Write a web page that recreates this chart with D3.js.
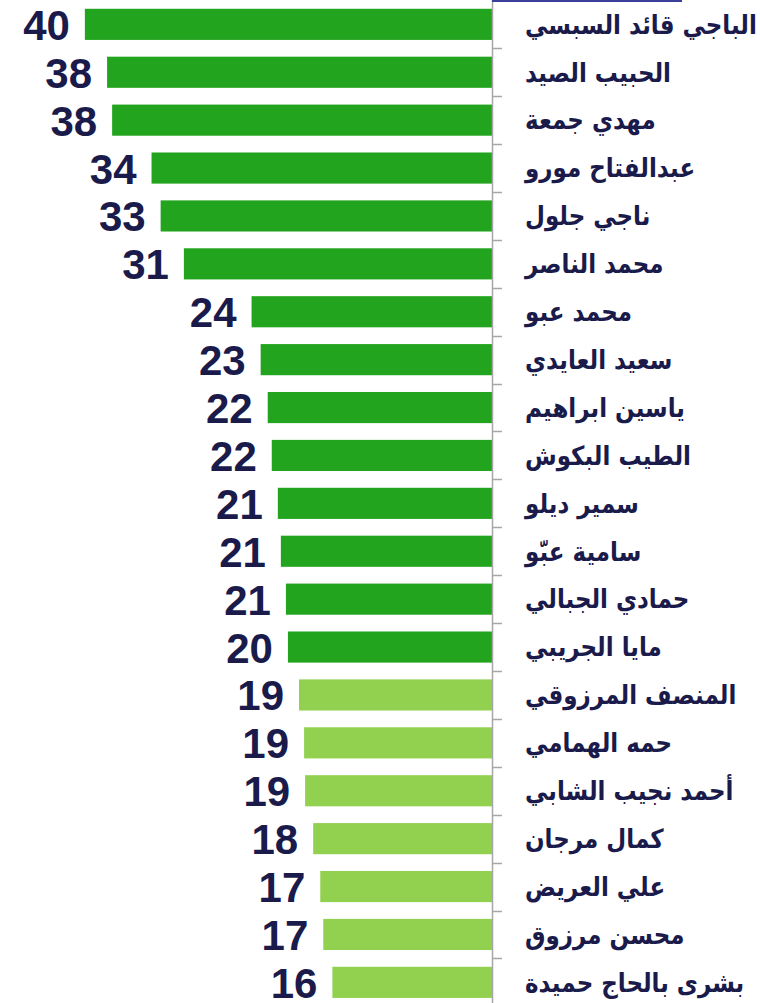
<!DOCTYPE html>
<html>
<head>
<meta charset="utf-8">
<script src="https://cdn.jsdelivr.net/npm/d3@7"></script>
<style>
  body { margin: 0; background: #fff; }
  svg { display: block; }
</style>
</head>
<body>
<div id="chart-container"></div>
<script>
// data, top to bottom
const names = [
  "الباجي قائد السبسي", "الحبيب الصيد", "مهدي جمعة", "عبدالفتاح مورو",
  "ناجي جلول", "محمد الناصر", "محمد عبو", "سعيد العايدي",
  "ياسين ابراهيم", "الطيب البكوش", "سمير ديلو", "سامية عبّو",
  "حمادي الجبالي", "مايا الجريبي", "المنصف المرزوقي", "حمه الهمامي",
  "أحمد نجيب الشابي", "كمال مرجان", "علي العريض", "محسن مرزوق",
  "بشرى بالحاج حميدة"
];
const labels = [40, 38, 38, 34, 33, 31, 24, 23, 22, 22, 21, 21, 21, 20, 19, 19, 19, 18, 17, 17, 16];
const values = [40.3, 38.1, 37.6, 33.7, 32.8, 30.5, 23.8, 22.9, 22.2, 21.8, 21.2, 20.9, 20.4, 20.2, 19.1, 18.6, 18.5, 17.7, 17.0, 16.7, 15.8];
const footer = "تونس :";

const data = names.map((n, i) => ({name: n, value: values[i], label: labels[i]}));

const width = 760;
const height = 1003;
const axisX = 492;

const svg = d3.select("#chart-container")
  .append("svg")
    .attr("width", width)
    .attr("height", height);

// bars grow to the left from the axis
const x = d3.scaleLinear().domain([0, 48.7]).range([axisX, 0]);
const y = d3.scaleBand()
  .domain(names)
  .range([0.4, 0.4 + 47.9 * names.length])
  .paddingInner(0.35)
  .paddingOuter(0.175);

const color = d3.scaleThreshold()
  .domain([19.5])
  .range(["#92d050", "#22a41e"]);

svg.selectAll(".bar")
  .data(data)
  .join("rect")
    .attr("class", "bar")
    .attr("x", d => x(d.value))
    .attr("y", d => y(d.name))
    .attr("width", d => x(0) - x(d.value))
    .attr("height", y.bandwidth())
    .attr("fill", d => color(d.label));

// category axis with ticks pointing right, between the bands
const step = y.step();
const bounds = d3.range(names.length + 1).map(i => y.range()[0] + i * step);
svg.append("line")
  .attr("x1", axisX + 0.5).attr("x2", axisX + 0.5)
  .attr("y1", 0).attr("y2", height)
  .attr("stroke", "#a6a6a6")
  .attr("stroke-width", 1.5);
svg.selectAll(".tick")
  .data(bounds.slice(1))
  .join("line")
    .attr("class", "tick")
    .attr("x1", axisX).attr("x2", axisX + 10)
    .attr("y1", d => Math.round(d) + 0.5).attr("y2", d => Math.round(d) + 0.5)
    .attr("stroke", "#a6a6a6")
    .attr("stroke-width", 1.5);

// names (stretched a bit vertically, the original font has taller glyphs)
svg.selectAll(".name")
  .data(data)
  .join("text")
    .attr("class", "name")
    .attr("transform", d => `translate(525,${y(d.name) + y.bandwidth() / 2}) scale(1,1.15)`)
    .attr("dy", "0.35em")
    .style("font-family", "'DejaVu Sans', sans-serif")
    .style("font-weight", "bold")
    .style("font-size", "23px")
    .attr("fill", "#1a1a4b")
    .text(d => d.name);

// value labels
svg.selectAll(".val")
  .data(data)
  .join("text")
    .attr("class", "val")
    .attr("x", d => x(d.value) - 15)
    .attr("y", d => y(d.name) + y.bandwidth() / 2 + 15.5)
    .attr("text-anchor", "end")
    .style("font-family", "'Liberation Sans', Arial, sans-serif")
    .style("font-weight", "bold")
    .style("font-size", "42px")
    .attr("fill", "#1a1a4b")
    .text(d => d.label);

// top edge of a box cut off by the crop
svg.append("line")
  .attr("x1", axisX).attr("x2", 682)
  .attr("y1", 1).attr("y2", 1)
  .attr("stroke", "#3a3f9c")
  .attr("stroke-width", 2);

// footer text mostly cut off at the bottom
svg.append("text")
  .attr("x", 0)
  .attr("y", 1020)
  .style("font-family", "'DejaVu Sans', sans-serif")
  .style("font-weight", "bold")
  .style("font-size", "30px")
  .attr("fill", "#1f2a6b")
  .text(footer);
</script>
</body>
</html>
